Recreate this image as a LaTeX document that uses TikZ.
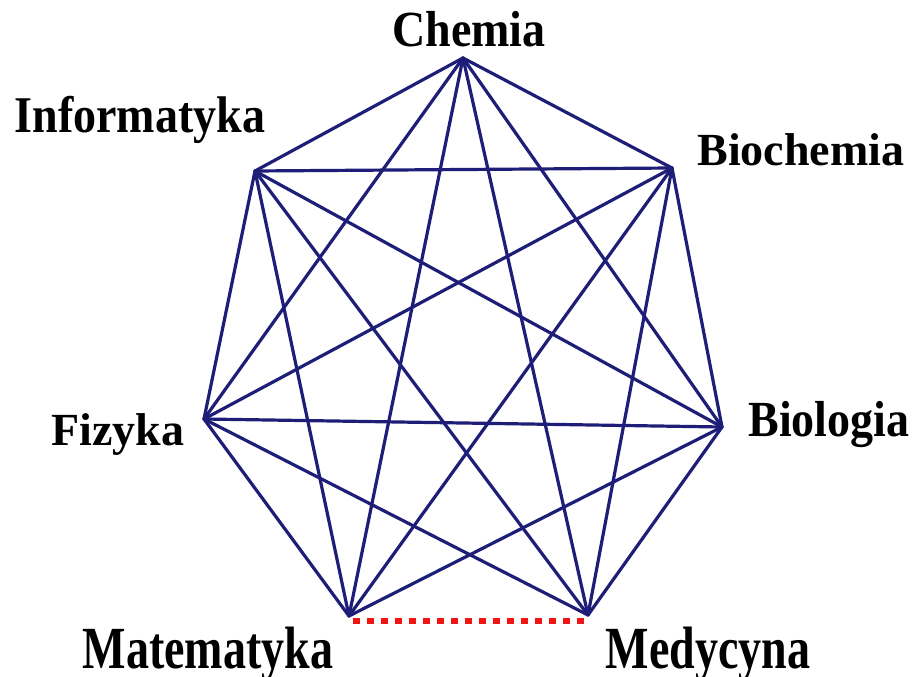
\documentclass[tikz,border=0pt]{standalone}
\usepackage{fontspec}
\setmainfont{Liberation Serif}
\begin{document}
\begin{tikzpicture}[x=1pt,y=-1pt,
  vert/.style={inner sep=0pt,minimum size=0pt},
  lbl/.style={font=\fontsize{46}{50}\selectfont\bfseries,anchor=base,inner sep=0pt},
  edge/.style={draw={rgb,255:red,30;green,30;blue,120},line width=3.2pt,line cap=round},
  reddash/.style={draw={rgb,255:red,240;green,20;blue,20},line width=6pt,dash pattern=on 7pt off 7pt}]
\useasboundingbox (0,0) rectangle (916,677);
\fill[white] (0,0) rectangle (916,677);
\coordinate (C) at (463,58);
\coordinate (I) at (255,171);
\coordinate (B) at (672,168);
\coordinate (F) at (204,419);
\coordinate (L) at (722,427);
\coordinate (M) at (349,616);
\coordinate (D) at (588,615);
\foreach \a/\b in {C/I,C/B,C/F,C/L,C/M,C/D,I/B,I/F,I/L,I/M,I/D,B/F,B/L,B/M,B/D,F/L,F/M,F/D,L/M,L/D}
  \draw[edge] (\a) -- (\b);
\coordinate (M1) at (353,621);
\coordinate (D1) at (588,621);
\draw[reddash] (M1) -- (D1);
\node[lbl,yscale=1.1] (tC) at (469,47) {Chemia};
\node[lbl,yscale=1.12] (tI) at (140,132) {Informatyka};
\node[lbl] (tB) at (801,165) {Biochemia};
\node[lbl] (tF) at (118,445) {Fizyka};
\node[lbl,yscale=1.1] (tL) at (829,436) {Biologia};
\node[lbl,yscale=1.3] (tM) at (208,668) {Matematyka};
\node[lbl,yscale=1.3] (tD) at (708,668) {Medycyna};
\end{tikzpicture}
\end{document}
